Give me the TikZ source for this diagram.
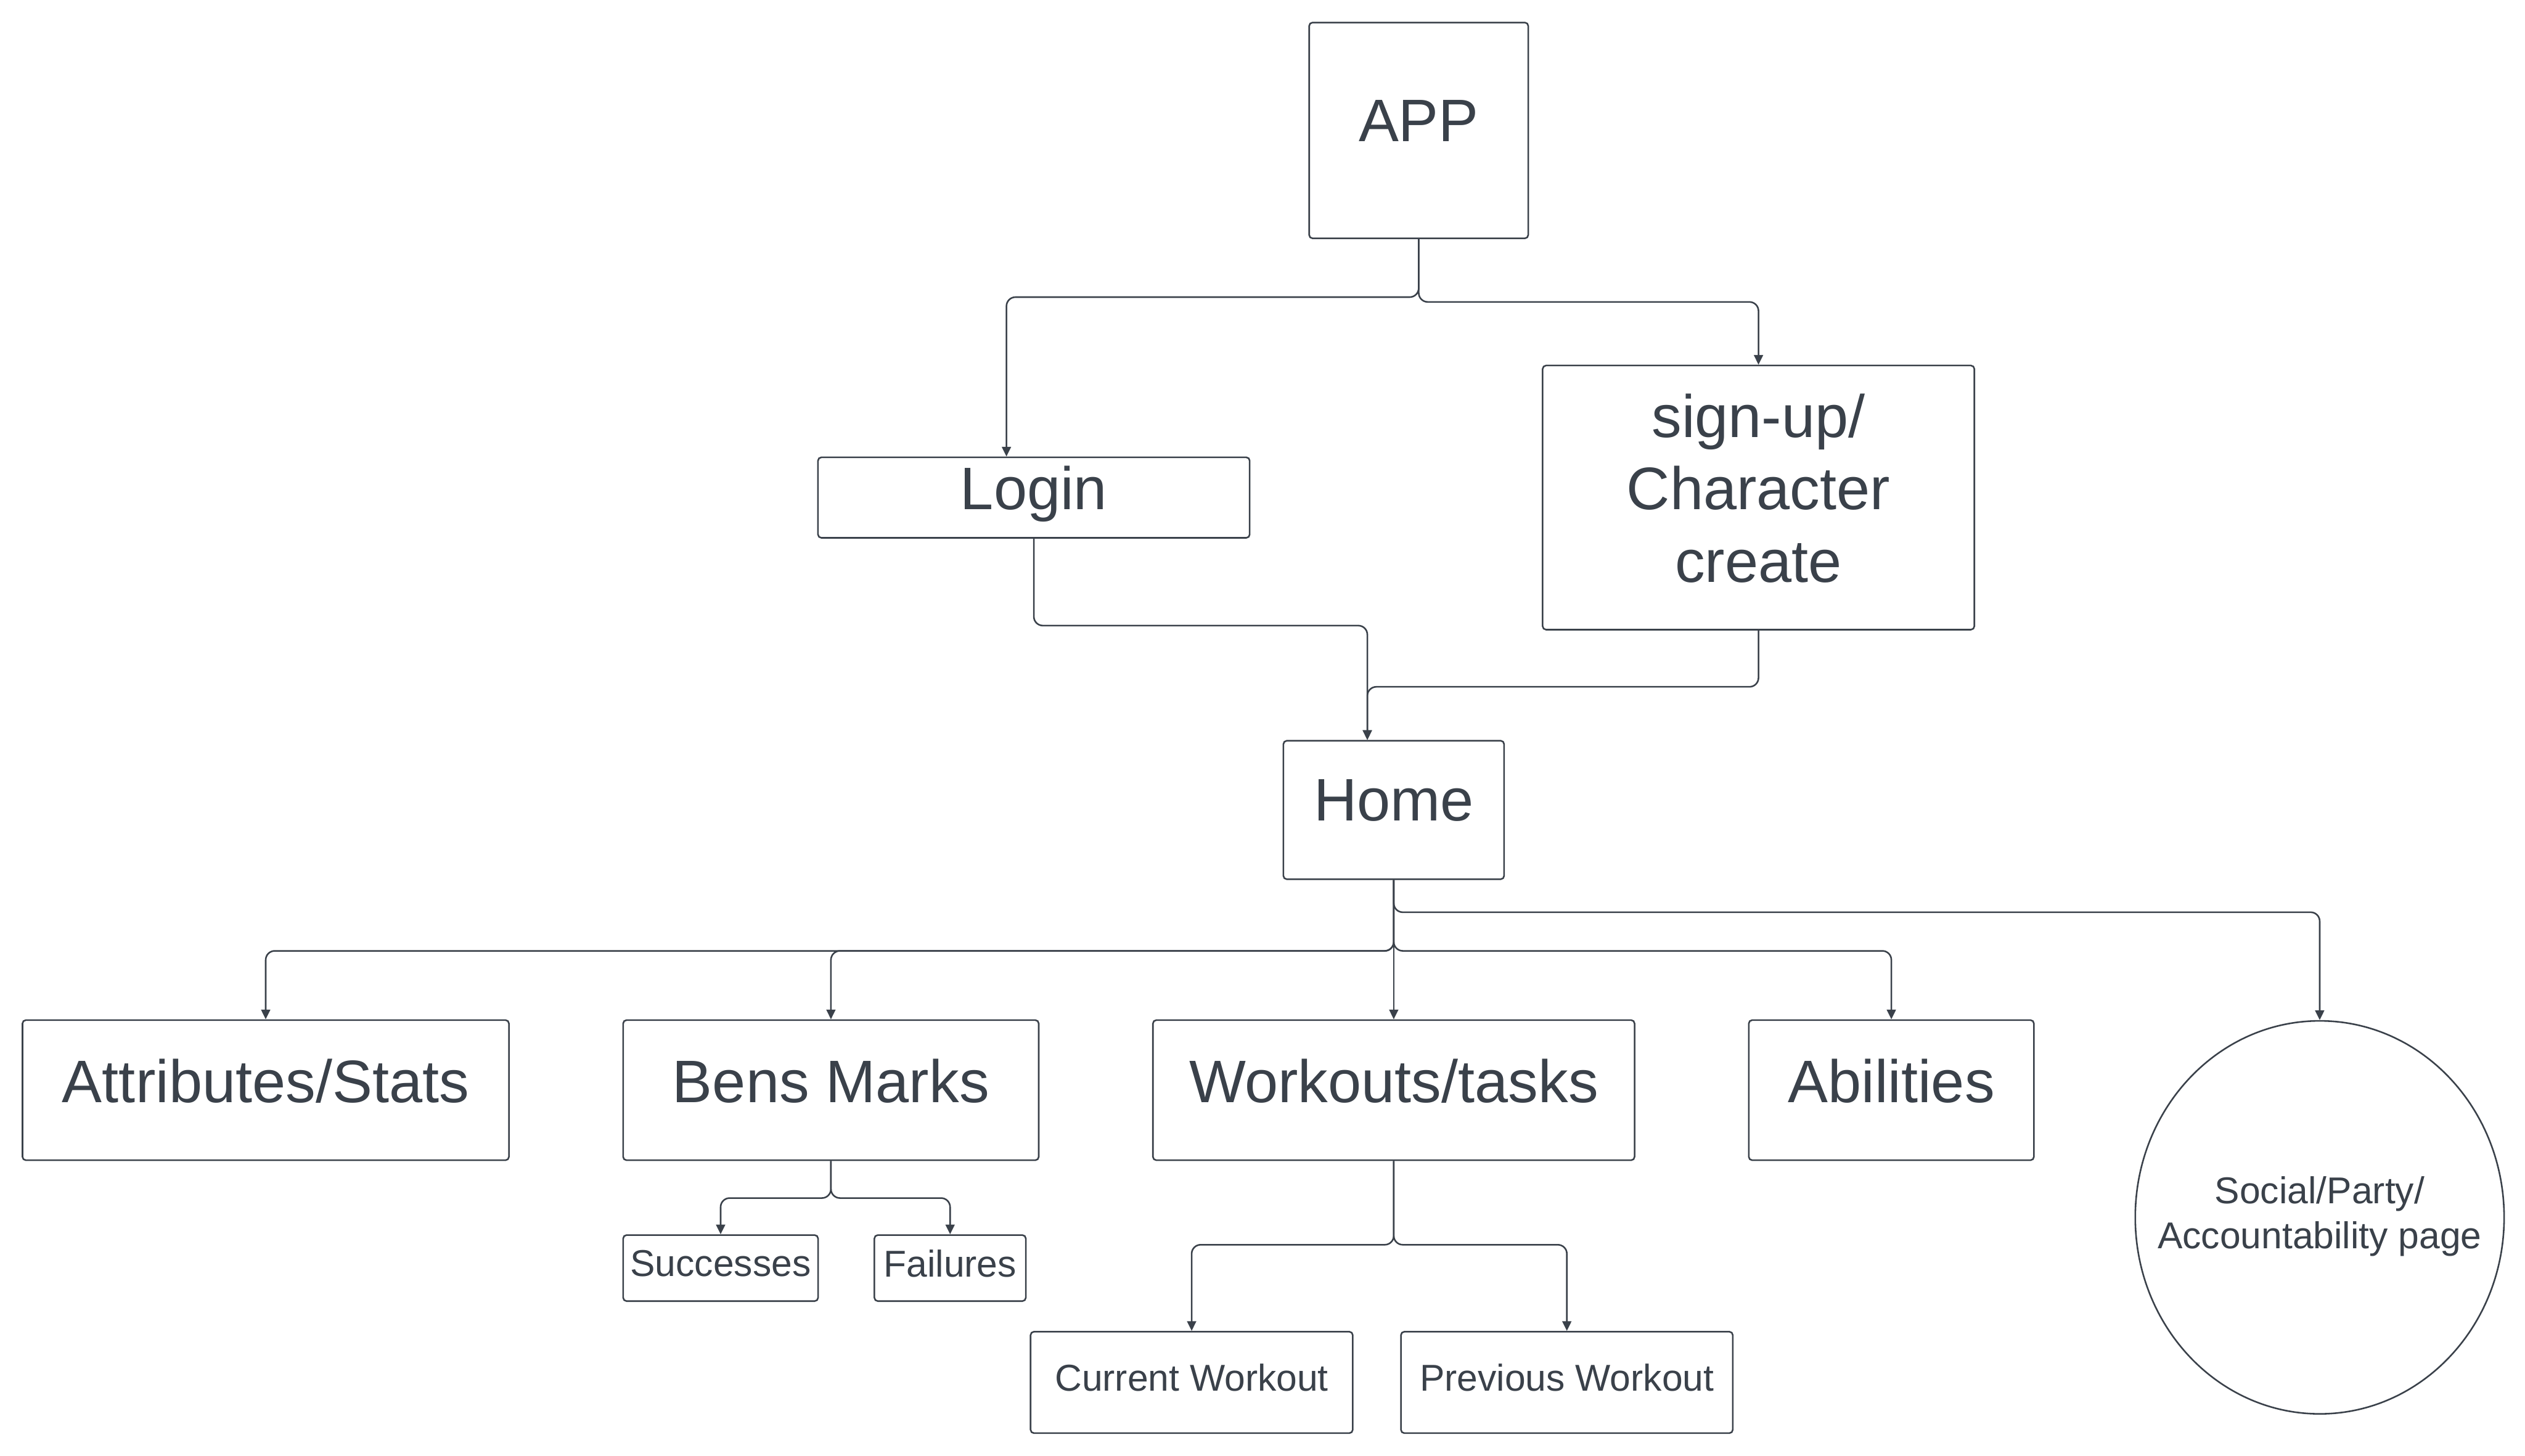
\documentclass[tikz,border=0pt]{standalone}
\usepackage{fontspec}
\setmainfont{Liberation Sans}
\usetikzlibrary{arrows.meta,shapes.geometric}
\definecolor{ink}{HTML}{3A414A}
\tikzset{
  box/.style={draw=ink, line width=0.7pt, rounded corners=1.5pt, inner sep=0pt, text=ink, align=center},
  big/.style={font=\fontsize{26.5}{32}\selectfont, text depth=0.3cm},
  small/.style={font=\fontsize{16.5}{20}\selectfont, text depth=0.15cm},
  conn/.style={draw=ink, line width=0.7pt, rounded corners=0.14cm, -{Triangle[length=0.15cm,width=0.14cm]}}
}
\begin{document}
\begin{tikzpicture}[x=0.025cm, y=-0.025cm]
    \useasboundingbox (0,0) rectangle (1568,904);
    \node [box, big, minimum width=3.4cm, minimum height=3.35cm] (app) at (881,81) {APP};
    \node [box, big, minimum width=6.7cm, minimum height=1.25cm] (login) at (642,309) {Login};
    \node [box, big, minimum width=6.7cm, minimum height=4.1cm] (signup) at (1092,309) {sign-up/\\Character\\create};
    \node [box, big, minimum width=3.425cm, minimum height=2.15cm] (home) at (865.5,503) {Home};
    \node [box, big, minimum width=7.55cm, minimum height=2.175cm] (attr) at (165,677) {Attributes/Stats};
    \node [box, big, minimum width=6.45cm, minimum height=2.175cm] (bens) at (516,677) {Bens Marks};
    \node [box, big, minimum width=7.475cm, minimum height=2.175cm] (work) at (865.5,677) {Workouts/tasks};
    \node [box, big, minimum width=4.425cm, minimum height=2.175cm] (abil) at (1174.5,677) {Abilities};
    \node [box, ellipse, minimum width=5.725cm, minimum height=6.1cm,
           label={[small, text=ink, align=center]center:Social/Party/\\Accountability page}] (social) at (1440.5,756) {};
    \node [box, small, minimum width=3.025cm, minimum height=1.025cm] (succ) at (447.5,787.5) {Successes};
    \node [box, small, minimum width=2.35cm, minimum height=1.025cm] (fail) at (590,787.5) {Failures};
    \node [box, small, minimum width=5cm, minimum height=1.575cm] (cur) at (740,858.5) {Current Workout};
    \node [box, small, minimum width=5.15cm, minimum height=1.575cm] (prev) at (973,858.5) {Previous Workout};
    % connectors
    \draw [conn] (app.south) -- ++(0,36) -| ([xshift=-0.425cm]login.north);
    \draw [conn] (app.south) -- ++(0,39) -| (signup.north);
    \draw [conn] (login.south) -- ++(0,54) -| ([xshift=-0.41cm]home.north);
    \draw [conn] (signup.south) -- ++(0,35) -| ([xshift=-0.41cm]home.north);
    \draw [conn] (home.south) -- ++(0,44) -| (attr.north);
    \draw [conn] (home.south) -- ++(0,44) -| (bens.north);
    \draw [conn] (home.south) -- (work.north);
    \draw [conn] (home.south) -- ++(0,44) -| (abil.north);
    \draw [conn] (home.south) -- ++(0,20) -| (social.north);
    \draw [conn] (bens.south) -- ++(0,23) -| (succ.north);
    \draw [conn] (bens.south) -- ++(0,23) -| (fail.north);
    \draw [conn] (work.south) -- ++(0,52) -| (cur.north);
    \draw [conn] (work.south) -- ++(0,52) -| (prev.north);
\end{tikzpicture}
\end{document}
